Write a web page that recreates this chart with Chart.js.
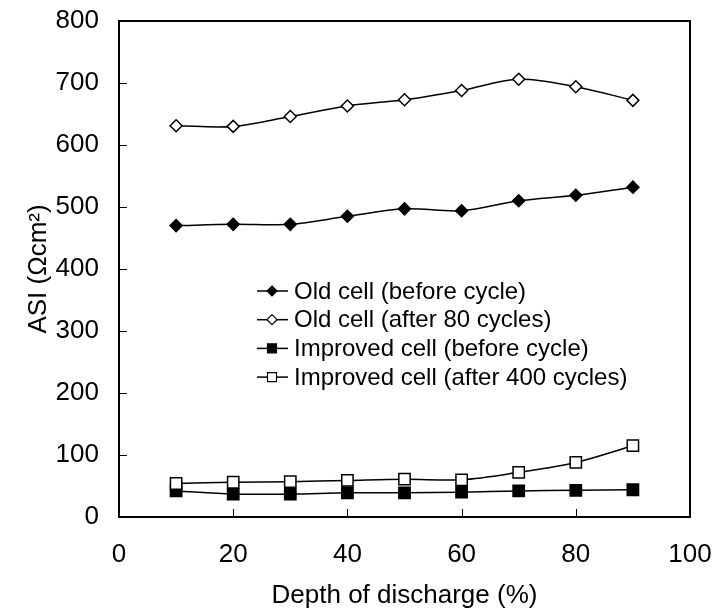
<!DOCTYPE html>
<html lang="en">
<head>
  <meta charset="UTF-8">
  <title>ASI vs depth of discharge</title>
  <script src="https://cdn.jsdelivr.net/npm/chart.js"></script>
  <style>
    html, body { margin: 0; padding: 0; background: #fff; }
    #wrap { width: 715px; height: 611px; }
  </style>
</head>
<body>
  <div id="wrap"><canvas id="chart"></canvas></div>
  <script>
    // values
    const depth = [10, 20, 30, 40, 50, 60, 70, 80, 90];
    const oldBefore = [470, 472, 472, 485, 497, 494, 510, 519, 532];
    const oldAfter80 = [631, 630, 646, 663, 673, 688, 706, 694, 672];
    const improvedBefore = [42, 37, 37, 39, 39, 40, 42, 43, 44];
    const improvedAfter400 = [54, 56, 57, 59, 61, 60, 72, 88, 115];
    const xTicks = [0, 20, 40, 60, 80, 100];
    const yTicks = [0, 100, 200, 300, 400, 500, 600, 700, 800];
    const seriesNames = [
      'Old cell (before cycle)',
      'Old cell (after 80 cycles)',
      'Improved cell (before cycle)',
      'Improved cell (after 400 cycles)'
    ];

    const FONT = "'Liberation Sans', Arial, sans-serif";

    function pts(values) {
      return depth.map((d, i) => ({ x: d, y: values[i] }));
    }

    function series(name, values, shape, filled, radius, order) {
      return {
        label: name,
        data: pts(values),
        borderColor: '#000',
        borderWidth: 1.5,
        backgroundColor: filled ? '#000' : '#fff',
        pointStyle: shape,
        pointRadius: radius,
        pointBorderColor: '#000',
        pointBackgroundColor: filled ? '#000' : '#fff',
        pointBorderWidth: 1.5,
        tension: 0.33,
        order: order
      };
    }

    // small diamond / square for the legend
    function drawMark(ctx, shape, filled, x, y, r) {
      ctx.beginPath();
      if (shape === 'rectRot') {
        ctx.moveTo(x, y - r); ctx.lineTo(x + r, y); ctx.lineTo(x, y + r); ctx.lineTo(x - r, y);
      } else {
        ctx.rect(x - r, y - r, 2 * r, 2 * r);
      }
      ctx.closePath();
      ctx.fillStyle = filled ? '#000' : '#fff';
      ctx.fill();
      ctx.lineWidth = 1.2;
      ctx.strokeStyle = '#000';
      ctx.stroke();
    }

    const frame = {
      id: 'frame',
      beforeDatasetsDraw(chart) {
        const { ctx, chartArea: a, scales } = chart;
        ctx.save();
        ctx.strokeStyle = '#000';
        ctx.lineWidth = 2;
        ctx.strokeRect(a.left, a.top, a.right - a.left, a.bottom - a.top);
        ctx.lineWidth = 1;
        ctx.beginPath();
        xTicks.forEach(v => {
          const px = Math.round(scales.x.getPixelForValue(v)) + 0.5;
          ctx.moveTo(px, a.bottom); ctx.lineTo(px, a.bottom - 8);
        });
        yTicks.forEach(v => {
          const py = Math.round(scales.y.getPixelForValue(v)) + 0.5;
          ctx.moveTo(a.left, py); ctx.lineTo(a.left + 8, py);
        });
        ctx.stroke();
        ctx.restore();
      },
      afterDraw(chart) {
        const { ctx, chartArea: a } = chart;
        const x0 = a.left + 138, y0 = a.top + 270, rowH = 28.7;
        ctx.save();
        chart.data.datasets.forEach((ds, i) => {
          const y = y0 + i * rowH;
          ctx.beginPath();
          ctx.moveTo(x0, y); ctx.lineTo(x0 + 31, y);
          ctx.lineWidth = 1.5; ctx.strokeStyle = '#000';
          ctx.stroke();
          const filled = ds.pointBackgroundColor === '#000';
          drawMark(ctx, ds.pointStyle, filled, x0 + 15, y, ds.pointStyle === 'rectRot' ? 5 : 4.5);
          ctx.fillStyle = '#000';
          ctx.font = '24px ' + FONT;
          ctx.textBaseline = 'middle';
          ctx.textAlign = 'left';
          ctx.fillText(ds.label, x0 + 37, y + 1);
        });
        ctx.restore();
      }
    };

    const ctx = document.getElementById('chart').getContext('2d');
    new Chart(ctx, {
      type: 'line',
      data: {
        datasets: [
          series(seriesNames[0], oldBefore, 'rectRot', true, 6, 4),
          series(seriesNames[1], oldAfter80, 'rectRot', false, 6, 3),
          series(seriesNames[2], improvedBefore, 'rect', true, 8, 2),
          series(seriesNames[3], improvedAfter400, 'rect', false, 8, 1)
        ]
      },
      options: {
        responsive: true,
        maintainAspectRatio: false,
        animation: false,
        layout: { padding: { top: 21, right: 25, left: 0, bottom: 0 } },
        plugins: { legend: { display: false }, tooltip: { enabled: false } },
        scales: {
          x: {
            type: 'linear',
            min: 0, max: 100,
            afterBuildTicks: s => { s.ticks = xTicks.map(v => ({ value: v })); },
            afterFit: s => { s.height = 94; s.paddingLeft = 0; s.paddingRight = 0; },
            grid: { display: false, drawTicks: false },
            border: { display: false },
            ticks: { color: '#000', font: { family: FONT, size: 26 }, padding: 22, maxRotation: 0 },
            title: {
              display: true, text: 'Depth of discharge (%)', color: '#000',
              font: { family: FONT, size: 26 }, padding: { top: 0, bottom: 0 }
            }
          },
          y: {
            min: 0, max: 800,
            afterBuildTicks: s => { s.ticks = yTicks.map(v => ({ value: v })); },
            afterFit: s => { s.width = 119; s.paddingTop = 0; s.paddingBottom = 0; },
            grid: { display: false, drawTicks: false },
            border: { display: false },
            ticks: { color: '#000', font: { family: FONT, size: 26 }, padding: 20 },
            title: {
              display: true, text: 'ASI (Ωcm²)', color: '#000',
              font: { family: FONT, size: 26 }, padding: { top: 23, bottom: 0 }
            }
          }
        }
      },
      plugins: [frame]
    });
  </script>
</body>
</html>
